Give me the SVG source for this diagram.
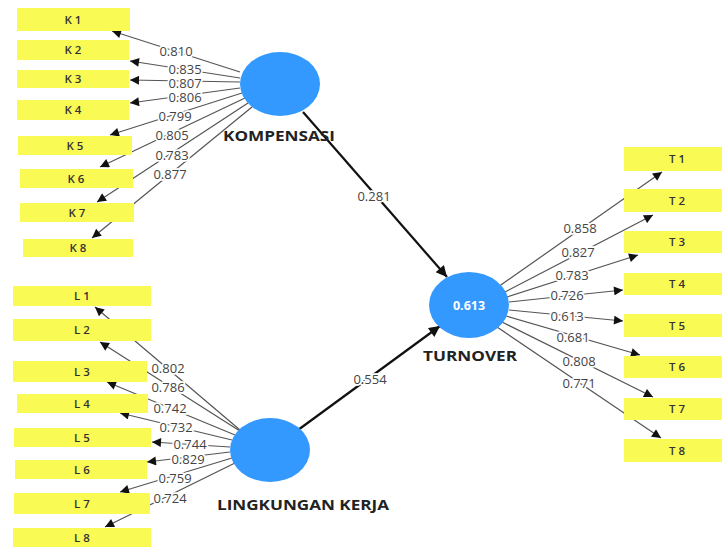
<svg xmlns="http://www.w3.org/2000/svg" width="723" height="548" viewBox="0 0 723 548">
<defs>
<style>
.ind{fill:#fafa55}
.lv{fill:#3399ff}
.it{font-family:"Open Sans","DejaVu Sans",sans-serif;font-size:11.5px;font-weight:600;fill:#333;text-anchor:middle}
.ln{stroke:#555;stroke-width:1.2;fill:none}
.pl{stroke:#111;stroke-width:2.2;fill:none}
.lb{font-family:"Open Sans","DejaVu Sans",sans-serif;font-size:13px;fill:#444;text-anchor:middle;stroke:#fff;stroke-width:3.5;paint-order:stroke;stroke-linejoin:round}
.nm{font-family:"Open Sans","DejaVu Sans",sans-serif;font-size:13.5px;font-weight:700;fill:#222;text-anchor:middle}
</style>
<marker id="ah" viewBox="0 0 10 10" refX="10" refY="5" markerWidth="11" markerHeight="9" markerUnits="userSpaceOnUse" orient="auto"><path d="M0,0 L10,5 L0,10 z" fill="#111"/></marker>
<marker id="ahb" viewBox="0 0 10 10" refX="10" refY="5" markerWidth="14" markerHeight="11" markerUnits="userSpaceOnUse" orient="auto"><path d="M0,0 L10,5 L0,10 z" fill="#111"/></marker>
</defs>
<rect width="723" height="548" fill="#fff"/>
<g id="connectors">
<line class="ln" x1="240" y1="72" x2="112" y2="31" marker-end="url(#ah)"/>
<line class="ln" x1="240" y1="78" x2="130" y2="61" marker-end="url(#ah)"/>
<line class="ln" x1="240" y1="82" x2="130" y2="80" marker-end="url(#ah)"/>
<line class="ln" x1="240" y1="88" x2="130" y2="103" marker-end="url(#ah)"/>
<line class="ln" x1="242" y1="93" x2="110" y2="135" marker-end="url(#ah)"/>
<line class="ln" x1="245" y1="98" x2="100" y2="167" marker-end="url(#ah)"/>
<line class="ln" x1="248" y1="103" x2="97" y2="202" marker-end="url(#ah)"/>
<line class="ln" x1="252" y1="107" x2="92" y2="238" marker-end="url(#ah)"/>
<line class="ln" x1="240" y1="430" x2="95" y2="307" marker-end="url(#ah)"/>
<line class="ln" x1="243" y1="433" x2="100" y2="342" marker-end="url(#ah)"/>
<line class="ln" x1="235" y1="435" x2="107" y2="382" marker-end="url(#ah)"/>
<line class="ln" x1="232" y1="440" x2="120" y2="413" marker-end="url(#ah)"/>
<line class="ln" x1="230" y1="447" x2="152" y2="442" marker-end="url(#ah)"/>
<line class="ln" x1="230" y1="452" x2="147" y2="462" marker-end="url(#ah)"/>
<line class="ln" x1="232" y1="458" x2="120" y2="492" marker-end="url(#ah)"/>
<line class="ln" x1="235" y1="463" x2="105" y2="527" marker-end="url(#ah)"/>
<line class="ln" x1="498" y1="287" x2="662" y2="172" marker-end="url(#ah)"/>
<line class="ln" x1="505" y1="292" x2="653" y2="215" marker-end="url(#ah)"/>
<line class="ln" x1="507" y1="297" x2="638" y2="255" marker-end="url(#ah)"/>
<line class="ln" x1="509" y1="302" x2="623" y2="290" marker-end="url(#ah)"/>
<line class="ln" x1="509" y1="310" x2="623" y2="321" marker-end="url(#ah)"/>
<line class="ln" x1="506" y1="316" x2="640" y2="355" marker-end="url(#ah)"/>
<line class="ln" x1="502" y1="322" x2="653" y2="397" marker-end="url(#ah)"/>
<line class="ln" x1="497" y1="327" x2="661" y2="438" marker-end="url(#ah)"/>
<line class="pl" x1="303" y1="112" x2="447" y2="277" marker-end="url(#ahb)"/>
<line class="pl" x1="298" y1="430" x2="440" y2="326" marker-end="url(#ahb)"/>
<text class="lb" x="176" y="56">0.810</text>
<text class="lb" x="185" y="74">0.835</text>
<text class="lb" x="185" y="88">0.807</text>
<text class="lb" x="185" y="102">0.806</text>
<text class="lb" x="175" y="121">0.799</text>
<text class="lb" x="172" y="140">0.805</text>
<text class="lb" x="172" y="160">0.783</text>
<text class="lb" x="170" y="179">0.877</text>
<text class="lb" x="168" y="373">0.802</text>
<text class="lb" x="168" y="392">0.786</text>
<text class="lb" x="170" y="413">0.742</text>
<text class="lb" x="176" y="432">0.732</text>
<text class="lb" x="190" y="449">0.744</text>
<text class="lb" x="188" y="464">0.829</text>
<text class="lb" x="175" y="483">0.759</text>
<text class="lb" x="170" y="503">0.724</text>
<text class="lb" x="580" y="233">0.858</text>
<text class="lb" x="578" y="257">0.827</text>
<text class="lb" x="572" y="280">0.783</text>
<text class="lb" x="567" y="300">0.726</text>
<text class="lb" x="567" y="321">0.613</text>
<text class="lb" x="573" y="342">0.681</text>
<text class="lb" x="579" y="366">0.808</text>
<text class="lb" x="579" y="388">0.771</text>
<text class="lb" x="374" y="201">0.281</text>
<text class="lb" x="370" y="384">0.554</text>
</g>
<g id="K1"><rect class="ind" x="17" y="8" width="113" height="23"/><text class="it" x="73" y="24">K 1</text></g>
<g id="K2"><rect class="ind" x="17" y="40" width="112" height="20"/><text class="it" x="73" y="54">K 2</text></g>
<g id="K3"><rect class="ind" x="17" y="70" width="112" height="18"/><text class="it" x="73" y="83">K 3</text></g>
<g id="K4"><rect class="ind" x="17" y="100" width="112" height="20"/><text class="it" x="73" y="114">K 4</text></g>
<g id="K5"><rect class="ind" x="18" y="136" width="114" height="19"/><text class="it" x="75" y="150">K 5</text></g>
<g id="K6"><rect class="ind" x="20" y="169" width="113" height="19"/><text class="it" x="76" y="183">K 6</text></g>
<g id="K7"><rect class="ind" x="20" y="203" width="114" height="19"/><text class="it" x="77" y="217">K 7</text></g>
<g id="K8"><rect class="ind" x="23" y="239" width="110" height="18"/><text class="it" x="78" y="252">K 8</text></g>
<g id="L1"><rect class="ind" x="13" y="286" width="138" height="20"/><text class="it" x="82" y="300">L 1</text></g>
<g id="L2"><rect class="ind" x="13" y="319" width="138" height="22"/><text class="it" x="82" y="334">L 2</text></g>
<g id="L3"><rect class="ind" x="13" y="361" width="134" height="21"/><text class="it" x="82" y="376">L 3</text></g>
<g id="L4"><rect class="ind" x="17" y="394" width="131" height="19"/><text class="it" x="82" y="408">L 4</text></g>
<g id="L5"><rect class="ind" x="14" y="428" width="137" height="19"/><text class="it" x="82" y="442">L 5</text></g>
<g id="L6"><rect class="ind" x="15" y="460" width="132" height="19"/><text class="it" x="82" y="474">L 6</text></g>
<g id="L7"><rect class="ind" x="14" y="493" width="136" height="21"/><text class="it" x="82" y="508">L 7</text></g>
<g id="L8"><rect class="ind" x="13" y="528" width="138" height="19"/><text class="it" x="82" y="542">L 8</text></g>
<g id="T1"><rect class="ind" x="624" y="147" width="98" height="24"/><text class="it" x="677" y="163">T 1</text></g>
<g id="T2"><rect class="ind" x="624" y="189" width="98" height="23"/><text class="it" x="677" y="205">T 2</text></g>
<g id="T3"><rect class="ind" x="624" y="231" width="98" height="22"/><text class="it" x="677" y="246">T 3</text></g>
<g id="T4"><rect class="ind" x="624" y="273" width="98" height="22"/><text class="it" x="677" y="288">T 4</text></g>
<g id="T5"><rect class="ind" x="624" y="314" width="98" height="23"/><text class="it" x="677" y="330">T 5</text></g>
<g id="T6"><rect class="ind" x="624" y="356" width="98" height="22"/><text class="it" x="677" y="371">T 6</text></g>
<g id="T7"><rect class="ind" x="624" y="398" width="98" height="22"/><text class="it" x="677" y="413">T 7</text></g>
<g id="T8"><rect class="ind" x="624" y="439" width="98" height="23"/><text class="it" x="677" y="455">T 8</text></g>
<g id="KOMPENSASI"><ellipse class="lv" cx="280" cy="84" rx="40" ry="32"/><text class="nm" x="279" y="141" textLength="112" lengthAdjust="spacingAndGlyphs">KOMPENSASI</text></g>
<g id="LINGKUNGAN_KERJA"><ellipse class="lv" cx="270" cy="450" rx="40" ry="32"/><text class="nm" x="303" y="510" textLength="172" lengthAdjust="spacingAndGlyphs">LINGKUNGAN KERJA</text></g>
<g id="TURNOVER"><ellipse class="lv" cx="469" cy="305" rx="40" ry="33"/><text x="469" y="310" font-family="Open Sans, DejaVu Sans, sans-serif" font-size="12.5" font-weight="700" fill="#fff" text-anchor="middle">0.613</text><text class="nm" x="470" y="361" textLength="94" lengthAdjust="spacingAndGlyphs">TURNOVER</text></g>
</svg>
